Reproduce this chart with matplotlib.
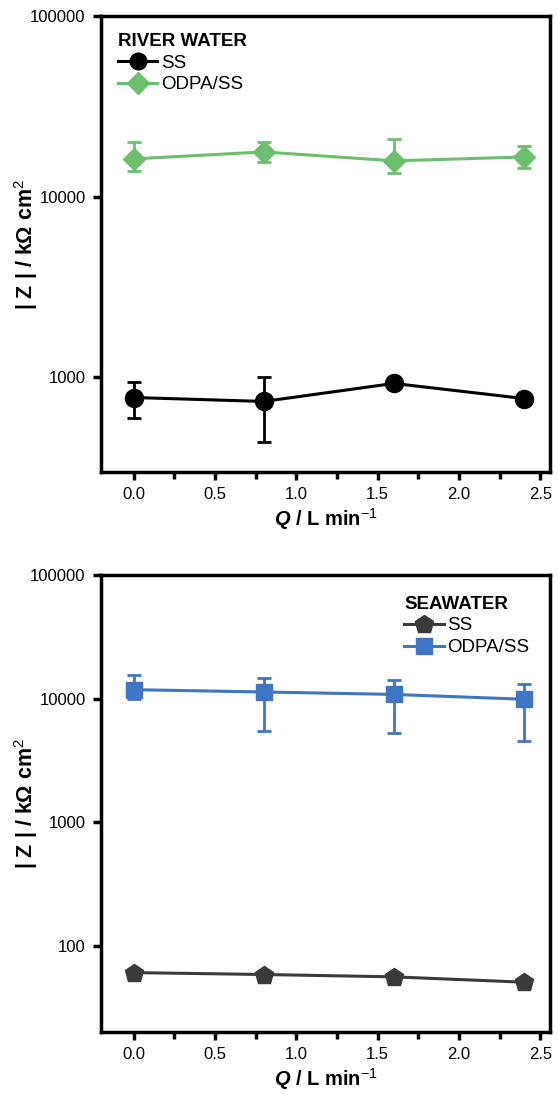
import numpy as np
import matplotlib
matplotlib.use("Agg")
import matplotlib.pyplot as plt
from matplotlib.ticker import FixedLocator, MultipleLocator, NullLocator, FormatStrFormatter

plt.rcParams['font.family'] = ['Liberation Sans', 'DejaVu Sans']
plt.rcParams['mathtext.fontset'] = 'custom'
plt.rcParams['mathtext.rm'] = 'Liberation Sans'
plt.rcParams['mathtext.it'] = 'Liberation Sans:italic'
plt.rcParams['mathtext.bf'] = 'Liberation Sans:bold'
plt.rcParams['mathtext.bfit'] = 'Liberation Sans:bold:italic'

# flow rates (L/min)
flow = [0.0, 0.8, 1.6, 2.4]

# river water, |Z| in kOhm cm2
river_ss = [775, 737, 927, 765]
river_ss_lo = [600, 440, 900, 750]
river_ss_hi = [940, 1010, 960, 780]
river_odpa = [16200, 17700, 15800, 16600]
river_odpa_lo = [13900, 15600, 13500, 14500]
river_odpa_hi = [20100, 20100, 20900, 19100]

# seawater
sea_ss = [60.5, 58.4, 55.9, 50.6]
sea_odpa = [11800, 11300, 10800, 9870]
sea_odpa_lo = [10000, 5450, 5220, 4530]
sea_odpa_hi = [15400, 14700, 14050, 13200]

green = '#6cbf6c'
blue = '#3f75c2'
dgray = '#3a3a3a'

fig = plt.figure(figsize=(5.57, 10.95), dpi=100)
ax1 = fig.add_axes([101/557, 1 - 472/1095, 449/557, 456/1095])
ax2 = fig.add_axes([101/557, 1 - 1032/1095, 449/557, 457/1095])


def yerr(v, lo, hi):
    v = np.array(v)
    return [v - np.array(lo), np.array(hi) - v]


def style(ax, ymin, yticks):
    ax.set_yscale('log')
    ax.set_ylim(ymin, 1e5)
    ax.set_xlim(-0.2, 2.56)
    ax.yaxis.set_major_locator(FixedLocator(yticks))
    ax.yaxis.set_minor_locator(NullLocator())
    ax.set_yticklabels([str(t) for t in yticks])
    ax.xaxis.set_major_locator(MultipleLocator(0.5))
    ax.xaxis.set_minor_locator(MultipleLocator(0.25))
    ax.xaxis.set_major_formatter(FormatStrFormatter('%.1f'))
    for s in ax.spines.values():
        s.set_linewidth(2.5)
    ax.tick_params(which='major', direction='out', length=6, width=2.5, labelsize=12, pad=5)
    ax.tick_params(which='minor', direction='out', length=5, width=2.5)
    ax.set_xlabel(r'$\boldsymbol{Q}$ / L min$^{\mathrm{-1}}$', fontsize=14.5, fontweight='bold', labelpad=3)
    ax.set_ylabel(r'| Z | / k$\mathbf{\Omega}$ cm$^{\mathrm{2}}$', fontsize=15.5,
                  fontweight='bold')
    ax.yaxis.set_label_coords(-0.135, 0.5)


def add_legend(ax, title, loc, pad):
    leg = ax.legend(title=title, loc=loc, frameon=False, fontsize=13.5,
                    title_fontproperties={'weight': 'bold', 'size': 13.5}, handlelength=2.1,
                    handletextpad=0.2, borderaxespad=pad, labelspacing=0.25, borderpad=0.3)
    leg._legend_box.align = 'left'
    return leg


# top panel - river water
ax1.errorbar(flow, river_ss, yerr=yerr(river_ss, river_ss_lo, river_ss_hi), color='black',
             marker='o', markersize=13, linewidth=2.2, elinewidth=2, capsize=5, capthick=2)
ax1.errorbar(flow, river_odpa, yerr=yerr(river_odpa, river_odpa_lo, river_odpa_hi), color=green,
             marker='D', markersize=11.5, linewidth=2.2, elinewidth=2, capsize=5, capthick=2)
# legend handles without error bars
ax1.plot([], [], color='black', marker='o', markersize=12, linewidth=2.2, label='SS')
ax1.plot([], [], color=green, marker='D', markersize=11, linewidth=2.2, label='ODPA/SS')
style(ax1, 300, [1000, 10000, 100000])
add_legend(ax1, 'RIVER WATER', 'upper left', 0.6)

# bottom panel - seawater
ax2.plot(flow, sea_ss, color=dgray, marker='p', markersize=13.5, linewidth=2.2, label='SS')
ax2.errorbar(flow, sea_odpa, yerr=yerr(sea_odpa, sea_odpa_lo, sea_odpa_hi), color=blue,
             marker='s', markersize=12, linewidth=2.2, elinewidth=2, capsize=5, capthick=2)
ax2.plot([], [], color=blue, marker='s', markersize=12, linewidth=2.2, label='ODPA/SS')
style(ax2, 20, [100, 1000, 10000, 100000])
add_legend(ax2, 'SEAWATER', 'upper right', 0.8)

fig.savefig('out.png', dpi=100)
